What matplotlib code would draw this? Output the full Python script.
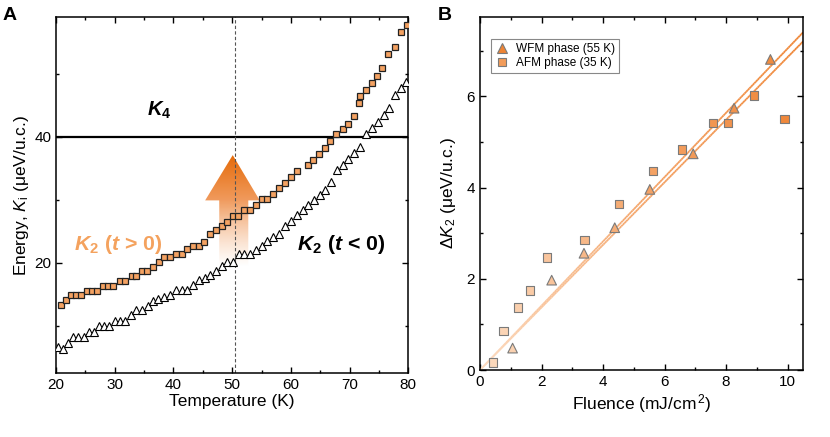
import numpy as np
import matplotlib
matplotlib.use("Agg")
import matplotlib.pyplot as plt
import matplotlib.colors as mcolors
from matplotlib.patches import Polygon
from matplotlib.collections import LineCollection
from matplotlib.lines import Line2D
from matplotlib.ticker import MultipleLocator

plt.rcParams['font.family'] = ['Liberation Sans', 'DejaVu Sans']
plt.rcParams['mathtext.fontset'] = 'custom'
plt.rcParams['mathtext.rm'] = 'Liberation Sans'
plt.rcParams['mathtext.it'] = 'Liberation Sans:italic'
plt.rcParams['mathtext.bf'] = 'Liberation Sans:bold'
try:
    plt.rcParams['mathtext.bfit'] = 'Liberation Sans:italic:bold'
except KeyError:
    pass

# ---------------- Panel A data ----------------
temp_pos = [20.85, 21.7, 22.55, 23.4, 24.26, 25.28, 26.1, 27.0, 28.06, 28.9,
            29.76, 30.95, 31.8, 32.9, 33.7, 34.6, 35.5, 36.6, 37.5, 38.4,
            39.4, 40.5, 41.4, 42.36, 43.4, 44.35, 45.26, 46.2, 47.2, 48.3,
            49.07, 50.1, 51.05, 52.07, 53.04, 54.06, 55.03, 56.0, 57.0, 57.99,
            59.0, 59.97, 61.0, 63.0, 63.8, 64.84, 65.9, 66.7, 67.7, 68.8,
            69.8, 70.8, 71.65, 71.8, 72.8, 73.86, 74.6, 75.6, 76.6, 77.7,
            78.7, 79.7]
k2_pos = [13.2, 14.0, 14.8, 14.8, 14.8, 15.56, 15.56, 15.56, 16.35, 16.35,
          16.35, 17.1, 17.1, 17.9, 17.9, 18.6, 18.6, 19.27, 20.06, 20.86,
          20.86, 21.4, 21.4, 22.17, 22.7, 22.7, 23.33, 24.56, 25.2, 25.87,
          26.4, 27.46, 27.46, 28.37, 28.37, 29.16, 30.06, 30.06, 30.9, 31.8,
          32.7, 33.65, 34.55, 35.5, 36.4, 37.3, 38.2, 39.3, 40.4, 41.3,
          42.1, 43.3, 45.4, 46.5, 47.5, 48.6, 49.65, 50.9, 53.1, 54.3,
          56.6, 57.8]

temp_neg = [20.4, 21.2, 22.05, 22.9, 23.8, 24.7, 25.65, 26.5, 27.4, 28.25,
            29.1, 30.05, 30.9, 31.8, 32.8, 33.65, 34.65, 35.65, 36.6, 37.45,
            38.45, 39.45, 40.5, 41.45, 42.35, 43.4, 44.3, 45.3, 46.2, 47.3,
            48.3, 49.2, 50.2, 51.1, 52.05, 53.0, 54.1, 55.0, 56.0, 56.9,
            57.9, 59.0, 59.97, 61.0, 62.0, 63.0, 63.9, 64.95, 65.9, 66.8,
            67.85, 68.9, 69.8, 70.8, 71.8, 72.8, 73.8, 74.8, 75.8, 76.8,
            77.7, 78.75, 79.6]
k2_neg = [6.6, 6.25, 7.25, 8.2, 8.2, 8.2, 9.05, 9.05, 9.95, 9.95,
          9.95, 10.8, 10.8, 10.8, 11.7, 12.5, 12.5, 13.1, 13.9, 14.15,
          14.6, 14.9, 15.67, 15.67, 15.67, 16.45, 17.2, 17.6, 18.1, 18.75,
          19.45, 20.1, 20.16, 21.45, 21.45, 21.45, 22.0, 22.7, 23.4, 24.1,
          24.5, 25.9, 26.7, 27.5, 28.35, 29.2, 29.9, 30.75, 31.5, 32.9,
          34.7, 35.5, 36.45, 37.4, 38.45, 40.4, 41.4, 42.4, 43.4, 44.55,
          46.6, 47.7, 48.8]

k4_level = 40.0
t_mark = 50.5

# ---------------- Panel B data ----------------
fluence_wfm = [1.06, 2.33, 3.38, 4.38, 5.52, 6.93, 8.26, 9.44]
dk2_wfm = [0.48, 1.97, 2.56, 3.12, 3.96, 4.74, 5.74, 6.81]
fluence_afm = [0.43, 0.76, 1.24, 1.63, 2.18, 3.39, 4.52, 5.63, 6.57, 7.57,
               8.06, 8.91, 9.89]
dk2_afm = [0.16, 0.86, 1.37, 1.74, 2.47, 2.85, 3.64, 4.36, 4.83, 5.42,
           5.42, 6.02, 5.50]
fit_slopes = [0.705, 0.686]
legend_labels = ['WFM phase (55 K)', 'AFM phase (35 K)']

fig = plt.figure(figsize=(8.3, 4.37), dpi=100)
axA = fig.add_axes([0.0675, 0.147, 0.4244, 0.8133])
axB = fig.add_axes([0.5783, 0.1533, 0.3892, 0.8078])

orange_fill = '#F4A262'
tick_fs = 11
label_fs = 12.5

for ax in (axA, axB):
    for s in ax.spines.values():
        s.set_linewidth(1.1)
    ax.tick_params(which='both', direction='in', top=True, right=True,
                   labelsize=tick_fs, width=1.0)
    ax.tick_params(which='major', length=4.5)
    ax.tick_params(which='minor', length=2.5)

# ---- Panel A ----
axA.set_xlim(20, 80)
axA.set_ylim(2.5, 59)
axA.xaxis.set_major_locator(MultipleLocator(10))
axA.xaxis.set_minor_locator(MultipleLocator(5))
axA.yaxis.set_major_locator(MultipleLocator(20))
axA.yaxis.set_minor_locator(MultipleLocator(10))

# gradient arrow
tip_y, head_y, bot_y = 37.1, 29.9, 19.4
hx0, hx1 = 45.4, 54.7
sx0, sx1 = 47.8, 52.75
cx = 50.1
verts = [(sx0, bot_y), (sx1, bot_y), (sx1, head_y), (hx1, head_y), (cx, tip_y),
         (hx0, head_y), (sx0, head_y)]
poly = Polygon(verts, closed=True, transform=axA.transData,
               facecolor='none', edgecolor='none')
axA.add_patch(poly)
n = 300
yy = np.linspace(tip_y, bot_y, n)
top_c = np.array(mcolors.to_rgb('#E56A08'))
mid_c = np.array(mcolors.to_rgb('#F09A5C'))
bot_c = np.array(mcolors.to_rgb('#F8C9A6'))
rgba = np.zeros((n, 1, 4))
for i, y in enumerate(yy):
    if y >= head_y:
        t = (tip_y - y) / (tip_y - head_y)
        c = top_c * (1 - t) + mid_c * t
        a = 1.0
    else:
        t = (head_y - y) / (head_y - bot_y)
        c = mid_c * (1 - t) + bot_c * t
        a = max(0.0, 1 - t) ** 0.9
    rgba[i, 0, :3] = c
    rgba[i, 0, 3] = a
im = axA.imshow(rgba, extent=[hx0, hx1, bot_y, tip_y], origin='upper',
                aspect='auto', interpolation='bilinear', zorder=1)
im.set_clip_path(poly)
axA.set_xlim(20, 80)
axA.set_ylim(2.5, 59)

axA.axhline(k4_level, color='black', lw=1.6, zorder=2)
axA.axvline(t_mark, color='#555555', lw=0.8, ls=(0, (3, 2)), zorder=2.5)

axA.plot(temp_neg, k2_neg, ls='none', marker='^', ms=6.2, mfc='white',
         mec='black', mew=0.8, zorder=3)
axA.plot(temp_pos, k2_pos, ls='none', marker='s', ms=5.0, mfc=orange_fill,
         mec='#222222', mew=0.9, zorder=4)

axA.text(35.5, 44.2, r'$\mathbfit{K}_{\mathbf{4}}$', fontsize=14.5,
         ha='left', va='center', color='black')
axA.text(23.1, 22.9, r'$\mathbfit{K}_{\mathbf{2}}$ ($\mathbfit{t}$ > 0)', fontsize=15.3,
         fontweight='bold', ha='left', va='center', color='#F4A25E')
axA.text(61.0, 22.9, r'$\mathbfit{K}_{\mathbf{2}}$ ($\mathbfit{t}$ < 0)', fontsize=15.3,
         fontweight='bold', ha='left', va='center', color='black')

axA.set_xlabel('Temperature (K)', fontsize=label_fs, labelpad=2)
axA.set_ylabel(r'Energy, $K_\mathrm{i}$ ($\mathrm{\mu}$eV/u.c.)', fontsize=label_fs, labelpad=2)

# ---- Panel B ----
axB.set_xlim(0, 10.5)
axB.set_ylim(0, 7.74)
axB.xaxis.set_major_locator(MultipleLocator(2))
axB.xaxis.set_minor_locator(MultipleLocator(1))
axB.yaxis.set_major_locator(MultipleLocator(2))
axB.yaxis.set_minor_locator(MultipleLocator(1))

cmap = mcolors.LinearSegmentedColormap.from_list('fl', ['#FCDCC2', '#F4A468', '#EF8535'])
norm = mcolors.Normalize(0, 10.5)

xs = np.linspace(0, 10.5, 200)
for k in fit_slopes:
    ys = k * xs
    pts = np.column_stack([xs, ys]).reshape(-1, 1, 2)
    segs = np.concatenate([pts[:-1], pts[1:]], axis=1)
    lc = LineCollection(segs, colors=cmap(norm(0.5 * (xs[:-1] + xs[1:]))),
                        linewidths=1.3, zorder=2)
    axB.add_collection(lc)

axB.scatter(fluence_afm, dk2_afm, marker='s', s=38, c=cmap(norm(np.array(fluence_afm))),
            edgecolors='#7A7A7A', linewidths=0.8, zorder=3)
axB.scatter(fluence_wfm, dk2_wfm, marker='^', s=48, c=cmap(norm(np.array(fluence_wfm))),
            edgecolors='#7A7A7A', linewidths=0.8, zorder=3)

handles = [Line2D([], [], ls='none', marker='^', ms=7, mfc='#EF8433', mec='#7A7A7A', mew=0.8),
           Line2D([], [], ls='none', marker='s', ms=6, mfc='#F29C5A', mec='#7A7A7A', mew=0.8)]
leg = axB.legend(handles, legend_labels, loc='upper left', fontsize=8.5,
                 bbox_to_anchor=(0.015, 0.955), fancybox=False, framealpha=1,
                 edgecolor='#888888', handletextpad=0.6, borderpad=0.35,
                 labelspacing=0.2, handlelength=1.2)
leg.get_frame().set_linewidth(0.8)

axB.set_xlabel(r'Fluence (mJ/cm$^{\,2}$)', fontsize=label_fs, labelpad=2)
axB.set_ylabel(r'$\Delta K_2$ ($\mathrm{\mu}$eV/u.c.)', fontsize=label_fs, labelpad=6)

fig.text(0.003, 0.985, 'A', fontsize=14, fontweight='bold', ha='left', va='top')
fig.text(0.527, 0.985, 'B', fontsize=14, fontweight='bold', ha='left', va='top')

fig.savefig('out.png', dpi=100)
